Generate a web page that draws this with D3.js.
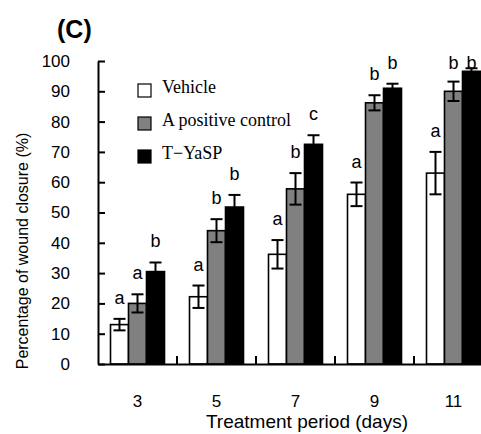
<!DOCTYPE html>
<html>
<head>
<meta charset="utf-8">
<script src="https://cdn.jsdelivr.net/npm/d3@7"></script>
<style>
  html, body { margin: 0; padding: 0; background: #fff; }
  svg { display: block; }
</style>
</head>
<body>
<svg id="chart" width="481" height="434"></svg>
<script>
// Wound closure (%) by treatment day, mean ± SD with significance letters
const days = ["3", "5", "7", "9", "11"];
const seriesNames = ["Vehicle", "A positive control", "T\u2212YaSP"];
const vehicleMean = [13, 22.2, 36.2, 56, 63];
const vehicleSD   = [1.9, 3.7, 4.7, 3.9, 7];
const positiveMean = [20, 44, 57.8, 86.2, 90];
const positiveSD   = [3, 3.8, 5.2, 2.5, 3.2];
const yaspMean = [30.5, 51.8, 72.5, 91, 96.6];
const yaspSD   = [3, 4, 3, 1.5, 1];
const vehicleLetters  = ["a", "a", "a", "a", "a"];
const positiveLetters = ["a", "b", "b", "b", "b"];
const yaspLetters     = ["b", "b", "c", "b", "b"];
const yTicks = [0, 10, 20, 30, 40, 50, 60, 70, 80, 90, 100];
const fills = ["#ffffff", "#808080", "#000000"];

const means = [vehicleMean, positiveMean, yaspMean];
const sds = [vehicleSD, positiveSD, yaspSD];
const letters = [vehicleLetters, positiveLetters, yaspLetters];

const svg = d3.select("#chart");
const plot = { left: 98, right: 493, top: 61, bottom: 364 };

const x = d3.scaleBand().domain(days).range([plot.left, plot.right]).padding(0);
const groupW = 54;
const xSub = d3.scaleBand().domain(seriesNames)
  .range([(x.bandwidth() - groupW) / 2, (x.bandwidth() + groupW) / 2]).padding(0);
const y = d3.scaleLinear().domain([0, 100]).range([plot.bottom, plot.top]);

const sans = "'Liberation Sans', Arial, Helvetica, sans-serif";
const serif = "'Liberation Serif', 'Times New Roman', serif";

// flatten records
const recs = [];
seriesNames.forEach((s, si) => {
  days.forEach((d, di) => {
    recs.push({ day: d, series: s, si, mean: means[si][di], sd: sds[si][di], letter: letters[si][di] });
  });
});

// bars
svg.append("g").selectAll("rect").data(recs).join("rect")
  .attr("x", d => x(d.day) + xSub(d.series))
  .attr("y", d => y(d.mean))
  .attr("width", xSub.bandwidth())
  .attr("height", d => y(0) - y(d.mean))
  .attr("fill", d => fills[d.si])
  .attr("stroke", "#000")
  .attr("stroke-width", 1.6);

// error bars
const eb = svg.append("g").attr("stroke", "#000").attr("stroke-width", 2);
recs.forEach(d => {
  const cx = x(d.day) + xSub(d.series) + xSub.bandwidth() / 2;
  const y1 = y(d.mean + d.sd), y0 = y(d.mean - d.sd);
  eb.append("line").attr("x1", cx).attr("x2", cx).attr("y1", y1).attr("y2", y0);
  eb.append("line").attr("x1", cx - 6).attr("x2", cx + 6).attr("y1", y1).attr("y2", y1);
  eb.append("line").attr("x1", cx - 6).attr("x2", cx + 6).attr("y1", y0).attr("y2", y0);
});

// significance letters
svg.append("g").selectAll("text").data(recs).join("text")
  .attr("x", d => x(d.day) + xSub(d.series) + xSub.bandwidth() / 2)
  .attr("y", d => Math.max(y(d.mean + d.sd) - 15, y(97.5)))
  .attr("text-anchor", "middle")
  .attr("font-family", sans)
  .attr("font-size", 18)
  .text(d => d.letter);

// y axis
const yAxis = svg.append("g")
  .attr("transform", `translate(${plot.left},0)`)
  .call(d3.axisLeft(y).tickValues(yTicks).tickSize(-7).tickPadding(28).tickSizeOuter(0));
yAxis.select(".domain").attr("stroke-width", 2);
yAxis.selectAll(".tick line").attr("stroke-width", 2);
yAxis.selectAll(".tick text").attr("font-family", sans).attr("font-size", 17).attr("fill", "#000");

// x axis: labels at group centres, ticks at group boundaries
const xAxis = svg.append("g")
  .attr("transform", `translate(0,${plot.bottom})`)
  .call(d3.axisBottom(x).tickSize(0).tickPadding(31));
xAxis.select(".domain").attr("stroke-width", 2);
xAxis.selectAll(".tick text").attr("font-family", sans).attr("font-size", 17).attr("fill", "#000");
svg.append("g").selectAll("line").data(days.slice(1)).join("line")
  .attr("x1", d => x(d)).attr("x2", d => x(d))
  .attr("y1", plot.bottom).attr("y2", plot.bottom - 8)
  .attr("stroke", "#000").attr("stroke-width", 2);

// axis titles
svg.append("text")
  .attr("transform", "translate(28,251) rotate(-90)")
  .attr("text-anchor", "middle")
  .attr("font-family", sans).attr("font-size", 16)
  .text("Percentage of wound closure (%)");
svg.append("text")
  .attr("x", 307).attr("y", 428)
  .attr("text-anchor", "middle")
  .attr("font-family", sans).attr("font-size", 19)
  .text("Treatment period (days)");

// panel label
svg.append("text")
  .attr("x", 57).attr("y", 38)
  .attr("font-family", sans).attr("font-size", 25).attr("font-weight", "bold")
  .text("(C)");

// legend
const legend = svg.append("g");
seriesNames.forEach((s, i) => {
  const by = 93 + i * 33;
  legend.append("rect")
    .attr("x", 138).attr("y", by - 9).attr("width", 13).attr("height", 13)
    .attr("fill", fills[i]).attr("stroke", "#000").attr("stroke-width", 1.2);
  legend.append("text")
    .attr("x", 162).attr("y", by)
    .attr("font-family", serif).attr("font-size", 18)
    .text(s);
});
</script>
</body>
</html>
